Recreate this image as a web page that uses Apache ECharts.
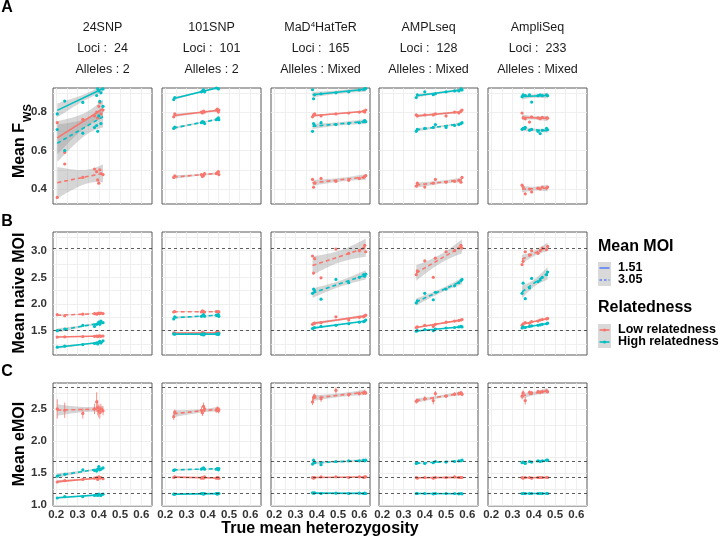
<!DOCTYPE html>
<html><head><meta charset="utf-8">
<script src="https://cdn.jsdelivr.net/npm/echarts@6/dist/echarts.min.js"></script>
<style>html,body{margin:0;padding:0;background:#fff}#c{width:720px;height:538px}</style>
</head><body><div id="c"></div>
<script>
// ---------------- DATA ----------------
const markerSets = ['24SNP', '101SNP', 'MaD4HatTeR', 'AMPLseq', 'AmpliSeq'];
const lociCounts = ['24', '101', '165', '128', '233'];
const alleleTypes = ['2', '2', 'Mixed', 'Mixed', 'Mixed'];
const moiLevels = ['1.51', '3.05'];
const relatednessLevels = ['Low relatedness', 'High relatedness'];
// group order inside every panel array: [low/1.51, low/3.05, high/1.51, high/3.05]

const xTicks = [0.2, 0.3, 0.4, 0.5, 0.6];
const xGridLines = [0.2, 0.25, 0.3, 0.35, 0.4, 0.45, 0.5, 0.55, 0.6];
const fwsTicks = [0.4, 0.6, 0.8];
const fwsGridLines = [0.4, 0.5, 0.6, 0.7, 0.8, 0.9];
const naiveTicks = [1.5, 2.0, 2.5, 3.0];
const naiveGridLines = [1.25, 1.5, 1.75, 2.0, 2.25, 2.5, 2.75, 3.0, 3.25];
const emoiTicks = [1.0, 1.5, 2.0, 2.5];
const emoiGridLines = [1.0, 1.25, 1.5, 1.75, 2.0, 2.25, 2.5, 2.75];
const naiveRefLines = [3.05, 1.51];
const emoiRefLines = [2.84, 1.69, 1.44, 1.18];

const het_24SNP = [0.205, 0.24, 0.325, 0.38, 0.39, 0.395, 0.40, 0.405, 0.41, 0.42];
const het_101SNP = [0.24, 0.245, 0.37, 0.375, 0.38, 0.385, 0.44, 0.445, 0.45, 0.452];
const het_MaD = [0.38, 0.385, 0.39, 0.42, 0.49, 0.55, 0.60, 0.62, 0.625, 0.63];
const het_AMPL = [0.36, 0.365, 0.40, 0.44, 0.45, 0.50, 0.54, 0.56, 0.57, 0.575];
const het_Ampli = [0.345, 0.35, 0.36, 0.38, 0.39, 0.42, 0.43, 0.44, 0.46, 0.465];

const fws_24SNP = [
  [0.745, 0.59, 0.762, 0.78, 0.80, 0.77, 0.83, 0.85, 0.79, 0.81],
  [0.356, 0.53, 0.46, 0.504, 0.49, 0.447, 0.43, 0.50, 0.48, 0.475],
  [0.79, 0.857, 0.85, 0.93, 0.886, 0.92, 0.91, 0.93, 0.90, 0.92],
  [0.709, 0.60, 0.69, 0.72, 0.73, 0.70, 0.78, 0.855, 0.74, 0.83]];
const fws_101SNP = [
  [0.775, 0.79, 0.80, 0.795, 0.805, 0.80, 0.81, 0.815, 0.80, 0.81],
  [0.46, 0.468, 0.475, 0.465, 0.47, 0.48, 0.48, 0.485, 0.49, 0.475],
  [0.865, 0.875, 0.905, 0.91, 0.915, 0.905, 0.925, 0.93, 0.92, 0.93],
  [0.715, 0.722, 0.745, 0.75, 0.748, 0.74, 0.76, 0.765, 0.77, 0.76]];
const fws_MaD = [
  [0.775, 0.785, 0.79, 0.78, 0.79, 0.795, 0.80, 0.805, 0.80, 0.81],
  [0.45, 0.409, 0.43, 0.455, 0.44, 0.445, 0.455, 0.46, 0.465, 0.47],
  [0.916, 0.869, 0.89, 0.895, 0.90, 0.905, 0.915, 0.918, 0.92, 0.922],
  [0.70, 0.74, 0.73, 0.745, 0.735, 0.74, 0.745, 0.75, 0.755, 0.75]];
const fws_AMPL = [
  [0.785, 0.78, 0.785, 0.785, 0.79, 0.78, 0.80, 0.795, 0.805, 0.81],
  [0.415, 0.43, 0.41, 0.43, 0.45, 0.435, 0.44, 0.445, 0.435, 0.46],
  [0.875, 0.89, 0.905, 0.89, 0.895, 0.905, 0.91, 0.91, 0.92, 0.915],
  [0.70, 0.71, 0.715, 0.72, 0.735, 0.72, 0.73, 0.735, 0.74, 0.745]];
const fws_Ampli = [
  [0.795, 0.77, 0.765, 0.748, 0.775, 0.77, 0.765, 0.772, 0.77, 0.768],
  [0.42, 0.41, 0.375, 0.40, 0.385, 0.405, 0.40, 0.41, 0.405, 0.41],
  [0.88, 0.89, 0.885, 0.89, 0.852, 0.885, 0.89, 0.885, 0.89, 0.885],
  [0.71, 0.715, 0.72, 0.705, 0.71, 0.70, 0.688, 0.705, 0.715, 0.708]];

const naive_24SNP = [
  [1.38, 1.385, 1.39, 1.395, 1.40, 1.39, 1.40, 1.405, 1.395, 1.40],
  [1.80, 1.78, 1.81, 1.82, 1.81, 1.82, 1.83, 1.82, 1.83, 1.82],
  [1.19, 1.21, 1.24, 1.26, 1.27, 1.25, 1.28, 1.30, 1.27, 1.31],
  [1.50, 1.53, 1.60, 1.58, 1.62, 1.63, 1.66, 1.62, 1.68, 1.65]];
const naive_101SNP = [
  [1.46, 1.455, 1.45, 1.47, 1.46, 1.44, 1.47, 1.46, 1.465, 1.46],
  [1.85, 1.86, 1.85, 1.87, 1.86, 1.85, 1.86, 1.85, 1.86, 1.85],
  [1.44, 1.435, 1.43, 1.44, 1.42, 1.44, 1.44, 1.435, 1.43, 1.445],
  [1.72, 1.76, 1.77, 1.78, 1.80, 1.77, 1.79, 1.78, 1.80, 1.77]];
const naive_MaD = [
  [1.62, 1.63, 1.64, 1.65, 1.76, 1.70, 1.75, 1.76, 1.78, 1.79],
  [2.90, 2.58, 2.85, 2.49, 3.03, 2.95, 3.00, 3.05, 3.10, 2.98],
  [1.54, 1.55, 1.56, 1.58, 1.60, 1.63, 1.66, 1.67, 1.68, 1.70],
  [2.20, 2.28, 2.25, 2.09, 2.46, 2.40, 2.50, 2.55, 2.52, 2.56]];
const naive_AMPL = [
  [1.56, 1.57, 1.60, 1.58, 1.62, 1.66, 1.68, 1.69, 1.70, 1.71],
  [2.55, 2.62, 2.81, 2.50, 2.86, 2.98, 3.00, 3.05, 3.10, 3.05],
  [1.49, 1.50, 1.52, 1.50, 1.53, 1.55, 1.56, 1.57, 1.58, 1.57],
  [2.02, 2.06, 2.20, 2.08, 2.22, 2.28, 2.34, 2.40, 2.44, 2.46]];
const naive_Ampli = [
  [1.60, 1.63, 1.65, 1.64, 1.67, 1.68, 1.70, 1.71, 1.72, 1.73],
  [2.74, 2.80, 2.98, 2.92, 3.00, 2.95, 3.00, 3.05, 3.02, 3.08],
  [1.55, 1.57, 1.56, 1.58, 1.59, 1.60, 1.61, 1.62, 1.63, 1.64],
  [2.20, 2.39, 2.10, 2.30, 2.48, 2.42, 2.45, 2.50, 2.55, 2.60]];

const emoi_24SNP = [
  [1.36, 1.38, 1.40, 1.42, 1.43, 1.40, 1.44, 1.42, 1.43, 1.41],
  [2.50, 2.48, 2.43, 2.50, 2.61, 2.52, 2.47, 2.45, 2.50, 2.47],
  [1.11, 1.13, 1.13, 1.15, 1.16, 1.15, 1.17, 1.16, 1.15, 1.17],
  [1.45, 1.48, 1.55, 1.54, 1.53, 1.56, 1.60, 1.55, 1.56, 1.58]];
const emoi_101SNP = [
  [1.43, 1.44, 1.42, 1.43, 1.42, 1.44, 1.42, 1.43, 1.42, 1.42],
  [2.38, 2.45, 2.48, 2.44, 2.54, 2.50, 2.48, 2.50, 2.47, 2.49],
  [1.17, 1.17, 1.18, 1.18, 1.17, 1.18, 1.18, 1.17, 1.18, 1.18],
  [1.54, 1.55, 1.56, 1.57, 1.58, 1.56, 1.56, 1.57, 1.55, 1.57]];
const emoi_MaD = [
  [1.43, 1.42, 1.43, 1.44, 1.44, 1.43, 1.44, 1.43, 1.44, 1.44],
  [2.61, 2.68, 2.70, 2.66, 2.79, 2.72, 2.74, 2.75, 2.76, 2.75],
  [1.19, 1.185, 1.19, 1.18, 1.185, 1.18, 1.185, 1.18, 1.185, 1.18],
  [1.64, 1.70, 1.66, 1.63, 1.68, 1.69, 1.69, 1.70, 1.69, 1.70]];
const emoi_AMPL = [
  [1.43, 1.42, 1.43, 1.42, 1.43, 1.43, 1.44, 1.43, 1.43, 1.43],
  [2.62, 2.63, 2.66, 2.63, 2.74, 2.70, 2.73, 2.74, 2.75, 2.73],
  [1.18, 1.18, 1.18, 1.175, 1.18, 1.18, 1.18, 1.175, 1.18, 1.175],
  [1.65, 1.66, 1.65, 1.66, 1.68, 1.67, 1.68, 1.69, 1.69, 1.70]];
const emoi_Ampli = [
  [1.43, 1.42, 1.43, 1.43, 1.42, 1.43, 1.43, 1.43, 1.43, 1.43],
  [2.70, 2.75, 2.63, 2.76, 2.75, 2.77, 2.76, 2.77, 2.78, 2.77],
  [1.18, 1.18, 1.18, 1.18, 1.18, 1.18, 1.18, 1.18, 1.18, 1.18],
  [1.66, 1.67, 1.65, 1.68, 1.67, 1.69, 1.68, 1.69, 1.70, 1.70]];

// half-widths of the eMOI error bars (low relatedness, MOI 3.05)
const emoiErr_24SNP = [0.15, 0.12, 0.08, 0.08, 0.15, 0.12, 0.10, 0.10, 0.08, 0.07];
const emoiErr_101SNP = [0.05, 0.04, 0.06, 0.05, 0.06, 0.05, 0.04, 0.04, 0.04, 0.04];
const emoiErr_MaD = [0.05, 0.05, 0.04, 0.05, 0.05, 0.03, 0.03, 0.03, 0.03, 0.03];
const emoiErr_AMPL = [0.04, 0.03, 0.04, 0.06, 0.04, 0.03, 0.03, 0.03, 0.03, 0.03];
const emoiErr_Ampli = [0.05, 0.04, 0.06, 0.03, 0.03, 0.03, 0.03, 0.03, 0.03, 0.03];

// ---------------- BUILD ----------------
const panels = [
  {het: het_24SNP, fws: fws_24SNP, naive: naive_24SNP, emoi: emoi_24SNP, err: emoiErr_24SNP},
  {het: het_101SNP, fws: fws_101SNP, naive: naive_101SNP, emoi: emoi_101SNP, err: emoiErr_101SNP},
  {het: het_MaD, fws: fws_MaD, naive: naive_MaD, emoi: emoi_MaD, err: emoiErr_MaD},
  {het: het_AMPL, fws: fws_AMPL, naive: naive_AMPL, emoi: emoi_AMPL, err: emoiErr_AMPL},
  {het: het_Ampli, fws: fws_Ampli, naive: naive_Ampli, emoi: emoi_Ampli, err: emoiErr_Ampli}
];
const RED = '#F8766D', TEAL = '#00BFC4', BLUE = '#5B80F8';
const groupColor = [RED, RED, TEAL, TEAL];
const groupDash = ['solid', [4, 3], 'solid', [4, 3]];
const FONT = 'Liberation Sans, Arial, sans-serif';

const colLeft = [53, 162, 271, 379, 488];
const colWidth = 99;
const rowTop = [88, 232, 383];
const rowHeight = [116, 123, 123];
const rows = [
  {key: 'fws', min: 0.322, max: 0.925, ticks: fwsTicks, lines: fwsGridLines, refs: null},
  {key: 'naive', min: 1.044, max: 3.35, ticks: naiveTicks, lines: naiveGridLines, refs: naiveRefLines},
  {key: 'emoi', min: 0.985, max: 2.905, ticks: emoiTicks, lines: emoiGridLines, refs: emoiRefLines}
];
const tTable = {1: 12.706, 2: 4.303, 3: 3.182, 4: 2.776, 5: 2.571, 6: 2.447, 7: 2.365, 8: 2.306, 9: 2.262, 10: 2.228};

function linearFit(xs, ys) {
  const n = xs.length;
  const mx = xs.reduce((a, b) => a + b, 0) / n;
  const my = ys.reduce((a, b) => a + b, 0) / n;
  let sxx = 0, sxy = 0;
  for (let i = 0; i < n; i++) { sxx += (xs[i] - mx) ** 2; sxy += (xs[i] - mx) * (ys[i] - my); }
  const b = sxy / sxx, a = my - b * mx;
  let sse = 0;
  for (let i = 0; i < n; i++) sse += (ys[i] - a - b * xs[i]) ** 2;
  const s = Math.sqrt(sse / (n - 2));
  const t = tTable[n - 2] || 2.0;
  const x0 = Math.min(...xs), x1 = Math.max(...xs);
  const upper = [], lower = [];
  const steps = 30;
  for (let k = 0; k <= steps; k++) {
    const x = x0 + (x1 - x0) * k / steps;
    const yh = a + b * x;
    const se = s * Math.sqrt(1 / n + (x - mx) ** 2 / sxx);
    upper.push([x, yh + t * se]);
    lower.push([x, yh - t * se]);
  }
  return {line: [[x0, a + b * x0], [x1, a + b * x1]], band: upper.concat(lower.reverse())};
}

const grids = [], xAxes = [], yAxes = [], series = [];
rows.forEach((row, r) => {
  panels.forEach((p, c) => {
    const idx = grids.length;
    grids.push({left: colLeft[c], top: rowTop[r], width: colWidth, height: rowHeight[r],
      show: true, borderColor: '#5a5a5a', borderWidth: 1, backgroundColor: '#fff', containLabel: false});
    xAxes.push({type: 'value', gridIndex: idx, min: 0.185, max: 0.65,
      axisLine: {show: false},
      axisTick: {show: false, customValues: xGridLines},
      splitLine: {show: true, lineStyle: {color: '#ebebeb', width: 0.8}},
      axisLabel: {show: r === 2, customValues: xTicks, formatter: v => v.toFixed(1),
        color: '#333', fontWeight: 'bold', fontSize: 11.5, fontFamily: FONT, margin: 3}
    });
    yAxes.push({type: 'value', gridIndex: idx, min: row.min, max: row.max,
      axisLine: {show: false},
      axisTick: {show: false, customValues: row.lines},
      splitLine: {show: true, lineStyle: {color: '#ebebeb', width: 0.8}},
      axisLabel: {show: c === 0, customValues: row.ticks, formatter: v => v.toFixed(1),
        color: '#333', fontWeight: 'bold', fontSize: 11.5, fontFamily: FONT, margin: 6}
    });
    const groups = p[row.key];
    groups.forEach((ys, gi) => {
      const f = linearFit(p.het, ys);
      series.push({type: 'custom', xAxisIndex: idx, yAxisIndex: idx, silent: true, clip: true, z: 1,
        data: [f.band[0]],
        renderItem: (params, api) => ({type: 'polygon',
          shape: {points: f.band.map(pt => api.coord(pt))},
          style: {fill: 'rgba(153,153,153,0.4)'}})
      });
      series.push({type: 'line', xAxisIndex: idx, yAxisIndex: idx, silent: true, z: 3,
        data: f.line, showSymbol: false, symbol: 'none',
        lineStyle: {color: groupColor[gi], width: 1.6, type: groupDash[gi]}});
      const sc = {type: 'scatter', xAxisIndex: idx, yAxisIndex: idx, silent: true, z: 4,
        data: p.het.map((x, i) => [x, ys[i]]), symbolSize: 3.2,
        itemStyle: {color: groupColor[gi], opacity: 1}};
      if (gi === 0 && row.refs) {
        sc.markLine = {silent: true, symbol: ['none', 'none'], label: {show: false},
          lineStyle: {color: '#333', type: [3, 3], width: 0.8},
          data: row.refs.map(v => ({yAxis: v}))};
      }
      series.push(sc);
    });
    if (r === 2) {
      const ys = groups[1];
      series.push({type: 'custom', xAxisIndex: idx, yAxisIndex: idx, silent: true, z: 2,
        data: p.het.map((x, i) => [x, ys[i] - p.err[i], ys[i] + p.err[i]]),
        renderItem: (params, api) => {
          const a = api.coord([api.value(0), api.value(1)]);
          const b = api.coord([api.value(0), api.value(2)]);
          return {type: 'line', shape: {x1: a[0], y1: a[1], x2: b[0], y2: b[1]},
            style: {stroke: RED, lineWidth: 1, opacity: 0.8}};
        }
      });
    }
  });
});

// ---------------- TEXT / LEGEND ----------------
const graphics = [];
const stripRich = {n: {fontSize: 12.5, fontFamily: FONT, fill: '#1a1a1a'}, s: {fontSize: 8, fontFamily: FONT, fill: '#1a1a1a', verticalAlign: 'top', lineHeight: 14}};
markerSets.forEach((m, c) => {
  const cx = colLeft[c] + colWidth / 2;
  const title = m === 'MaD4HatTeR' ? '{n|MaD}{s|4}{n|HatTeR}' : '{n|' + m + '}';
  graphics.push({type: 'text', x: cx, y: 28, style: {text: title, rich: stripRich, align: 'center', verticalAlign: 'middle'}});
  graphics.push({type: 'text', x: cx, y: 49, style: {text: 'Loci :  ' + lociCounts[c], font: '12.5px ' + FONT, fill: '#1a1a1a', align: 'center', verticalAlign: 'middle'}});
  graphics.push({type: 'text', x: cx, y: 70, style: {text: 'Alleles : ' + alleleTypes[c], font: '12.5px ' + FONT, fill: '#1a1a1a', align: 'center', verticalAlign: 'middle'}});
});
[['A', 8], ['B', 222], ['C', 372]].forEach(([t, y]) => {
  graphics.push({type: 'text', x: 7, y: y, style: {text: t, font: 'bold 16px ' + FONT, fill: '#000', align: 'center', verticalAlign: 'middle'}});
});
const yTitleFont = 'bold 16px ' + FONT;
[['Mean naive MOI', 293], ['Mean eMOI', 444]].forEach(([t, y]) => {
  graphics.push({type: 'text', x: 20, y: y, rotation: Math.PI / 2, style: {text: t, font: yTitleFont, fill: '#000', align: 'center', verticalAlign: 'middle'}});
});
// Mean F_WS with subscript: main part and subscript drawn as two texts
graphics.push({type: 'text', x: 20, y: 123, rotation: Math.PI / 2, style: {text: 'Mean F', font: yTitleFont, fill: '#000', align: 'right', verticalAlign: 'middle'}});
graphics.push({type: 'text', x: 27.5, y: 122, rotation: Math.PI / 2, style: {text: 'WS', font: 'bold 11px ' + FONT, fill: '#000', align: 'left', verticalAlign: 'middle'}});
graphics.push({type: 'text', x: 320, y: 529, style: {text: 'True mean heterozygosity', font: 'bold 16px ' + FONT, fill: '#000', align: 'center', verticalAlign: 'middle'}});

// legend
const legX = 598;
graphics.push({type: 'text', x: legX, y: 247, style: {text: 'Mean MOI', font: 'bold 16px ' + FONT, fill: '#000', verticalAlign: 'middle'}});
moiLevels.forEach((lab, i) => {
  const y = 268 + i * 12;
  graphics.push({type: 'rect', shape: {x: legX, y: y - 6, width: 13, height: 12}, style: {fill: '#d9d9d9'}});
  graphics.push({type: 'line', shape: {x1: legX + 1.5, y1: y, x2: legX + 11.5, y2: y}, style: {stroke: BLUE, lineWidth: 1.6, lineDash: i === 0 ? null : [2.5, 2]}});
  graphics.push({type: 'text', x: legX + 20, y: y, style: {text: lab, font: 'bold 12.5px ' + FONT, fill: '#000', verticalAlign: 'middle'}});
});
graphics.push({type: 'text', x: legX, y: 308, style: {text: 'Relatedness', font: 'bold 16px ' + FONT, fill: '#000', verticalAlign: 'middle'}});
relatednessLevels.forEach((lab, i) => {
  const y = 330 + i * 12;
  const col = i === 0 ? RED : TEAL;
  graphics.push({type: 'rect', shape: {x: legX, y: y - 6, width: 13, height: 12}, style: {fill: '#d9d9d9'}});
  graphics.push({type: 'line', shape: {x1: legX + 1.5, y1: y, x2: legX + 11.5, y2: y}, style: {stroke: col, lineWidth: 1.6}});
  graphics.push({type: 'circle', shape: {cx: legX + 6.5, cy: y, r: 1.6}, style: {fill: col}});
  graphics.push({type: 'text', x: legX + 20, y: y, style: {text: lab, font: 'bold 12.5px ' + FONT, fill: '#000', verticalAlign: 'middle'}});
});

const chart = echarts.init(document.getElementById('c'), null, {renderer: 'canvas', width: 720, height: 538});
chart.setOption({
  animation: false,
  backgroundColor: '#fff',
  textStyle: {fontFamily: FONT},
  grid: grids, xAxis: xAxes, yAxis: yAxes, series: series, graphic: graphics
});
</script></body></html>
